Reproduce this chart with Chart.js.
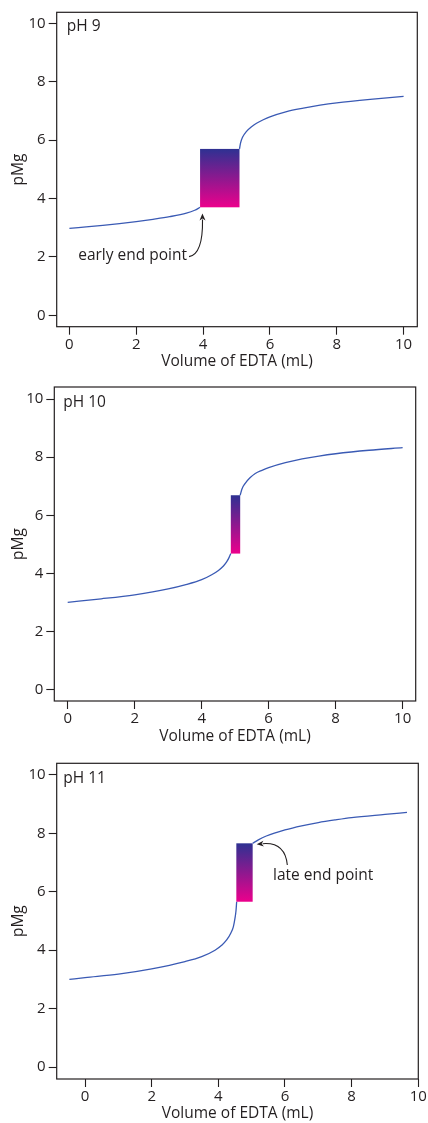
<!DOCTYPE html>
<html>
<head>
<meta charset="utf-8">
<title>pMg titration curves</title>
<script src="https://cdn.jsdelivr.net/npm/chart.js@4.4.1/dist/chart.umd.min.js"></script>
<style>
  html, body { margin: 0; padding: 0; background: #fff; }
  canvas { position: absolute; left: 0; }
</style>
</head>
<body>
<canvas id="ph9" width="428" height="375" style="top:0"></canvas>
<canvas id="ph10" width="428" height="375" style="top:375px"></canvas>
<canvas id="ph11" width="428" height="373" style="top:750px"></canvas>
<script>
// ===== Data =====
const xTicks = [0, 2, 4, 6, 8, 10];
const yTicks = [0, 2, 4, 6, 8, 10];

// pH 9 (null = hidden behind the indicator box)
const ph9Volume = [0, 0.5, 1, 1.5, 2, 2.5, 3, 3.5, 3.75, 3.91, 4.5, 5.09, 5.12, 5.18, 5.3, 5.45, 5.6, 5.8, 6, 6.5, 7, 7.5, 8, 9, 10];
const ph9pMg    = [2.98, 3.03, 3.08, 3.14, 3.21, 3.29, 3.38, 3.5, 3.6, 3.7, null, 5.7, 5.9, 6.1, 6.3, 6.46, 6.58, 6.7, 6.8, 6.98, 7.1, 7.2, 7.28, 7.4, 7.5];
const ph9Box    = [3.91, 5.09, 3.7, 5.7];   // volume from/to, pMg from/to

// pH 10
const ph10Volume = [0, 1, 2, 3, 3.5, 4, 4.3, 4.5, 4.65, 4.75, 4.82, 4.87, 5.0, 5.15, 5.2, 5.3, 5.45, 5.6, 5.8, 6, 6.5, 7, 7.5, 8, 9, 10];
const ph10pMg    = [3.0, 3.12, 3.26, 3.46, 3.6, 3.78, 3.95, 4.1, 4.25, 4.4, 4.55, 4.68, null, 6.69, 6.9, 7.1, 7.3, 7.44, 7.55, 7.64, 7.81, 7.94, 8.04, 8.12, 8.24, 8.33];
const ph10Box    = [4.87, 5.15, 4.68, 6.69];

// pH 11
const ph11Volume = [-0.47, 0, 1, 2, 3, 3.5, 3.9, 4.1, 4.25, 4.38, 4.45, 4.5, 4.53, 4.55, 4.8, 5.03, 5.2, 5.44, 6, 6.5, 7, 7.5, 8, 9, 9.66];
const ph11pMg    = [3.0, 3.06, 3.18, 3.36, 3.61, 3.78, 4.0, 4.17, 4.35, 4.6, 4.8, 5.1, 5.35, 5.66, null, 7.66, 7.78, 7.91, 8.12, 8.26, 8.37, 8.46, 8.54, 8.65, 8.72];
const ph11Box    = [4.54, 5.03, 5.66, 7.66];

// ===== Styles =====
const INK = '#231f20';
const LINE = '#3a5ab4';
const FAMILY = "'Open Sans', 'Noto Sans', sans-serif";
const TICK_FONT = { family: FAMILY, size: 15 };
const TEXT_FONT = { family: FAMILY, size: 15.5 };

// ===== Plugin: frame, indicator box, labels, arrows =====
const decorPlugin = {
  id: 'decor',
  afterDatasetsDraw(chart, args, opts) {
    const { ctx, chartArea: a, scales: { x, y } } = chart;
    const b = opts.box;
    const x0 = x.getPixelForValue(b[0]), x1 = x.getPixelForValue(b[1]);
    const yLo = y.getPixelForValue(b[2]), yHi = y.getPixelForValue(b[3]);
    const g = ctx.createLinearGradient(0, yHi, 0, yLo);
    g.addColorStop(0, '#2e3192');
    g.addColorStop(1, '#ec008c');
    ctx.save();
    ctx.fillStyle = g;
    ctx.fillRect(x0, yHi, x1 - x0, yLo - yHi);

    // frame
    ctx.strokeStyle = INK;
    ctx.lineWidth = 1.2;
    ctx.strokeRect(a.left, a.top, a.width, a.height);

    // panel label
    ctx.fillStyle = INK;
    ctx.font = TEXT_FONT.size + 'px ' + FAMILY;
    ctx.textBaseline = 'middle';
    ctx.textAlign = 'left';
    ctx.fillText(opts.label, a.left + opts.labelOffset[0], a.top + opts.labelOffset[1]);

    // annotation
    const n = opts.note;
    if (n) {
      ctx.textAlign = n.align;
      ctx.fillText(n.text, x.getPixelForValue(n.at[0]), y.getPixelForValue(n.at[1]));
      const p = v => [x.getPixelForValue(v[0]), y.getPixelForValue(v[1])];
      const [tx, ty] = p(n.tail), [cx, cy] = p(n.ctrl), [hx, hy] = p(n.tip);
      const ang = Math.atan2(hy - cy, hx - cx);
      const len = 7, half = 3;
      const bx = hx - Math.cos(ang) * len, by = hy - Math.sin(ang) * len;
      ctx.beginPath();
      ctx.moveTo(tx, ty);
      ctx.quadraticCurveTo(cx, cy, bx + Math.cos(ang) * 1, by + Math.sin(ang) * 1);
      ctx.lineWidth = 1.1;
      ctx.stroke();
      ctx.beginPath();
      ctx.moveTo(hx, hy);
      ctx.lineTo(bx + Math.sin(ang) * half, by - Math.cos(ang) * half);
      ctx.lineTo(bx + Math.cos(ang) * 2, by + Math.sin(ang) * 2);
      ctx.lineTo(bx - Math.sin(ang) * half, by + Math.cos(ang) * half);
      ctx.closePath();
      ctx.fill();
    }
    ctx.restore();
  }
};

// ===== Create Chart =====
function makePanel(id, volume, pMg, p) {
  const pts = volume.map((v, i) => ({ x: v, y: pMg[i] }));
  const canvas = document.getElementById(id);
  const H = canvas.height;
  return new Chart(canvas, {
    type: 'line',
    data: {
      datasets: [{
        data: pts,
        borderColor: LINE,
        borderWidth: 1.3,
        pointRadius: 0,
        cubicInterpolationMode: 'monotone',
        spanGaps: false,
        fill: false
      }]
    },
    options: {
      responsive: false,
      animation: false,
      events: [],
      layout: { padding: { left: 0, top: p.area[1], right: 428 - p.area[2], bottom: 0 } },
      plugins: {
        legend: { display: false },
        tooltip: { enabled: false },
        decor: { box: p.box, label: p.label, labelOffset: p.labelOffset, note: p.note }
      },
      scales: {
        x: {
          type: 'linear',
          min: p.xRange[0], max: p.xRange[1],
          afterBuildTicks: s => { s.ticks = xTicks.map(v => ({ value: v })); },
          afterFit: s => { s.height = H - p.area[3]; },
          grid: { drawOnChartArea: false, drawTicks: true, tickLength: 8, color: INK, tickWidth: 1.1 },
          border: { display: false },
          ticks: { color: INK, font: TICK_FONT, padding: 1, autoSkip: false, maxRotation: 0 },
          title: { display: true, text: 'Volume of EDTA (mL)', color: INK, font: TEXT_FONT, padding: { top: 0, bottom: p.xTitlePad } }
        },
        y: {
          type: 'linear',
          min: p.yRange[0], max: p.yRange[1],
          afterBuildTicks: s => { s.ticks = yTicks.map(v => ({ value: v })); },
          afterFit: s => { s.width = p.area[0]; },
          grid: { drawOnChartArea: false, drawTicks: true, tickLength: 8, color: INK, tickWidth: 1.1 },
          border: { display: false },
          ticks: { color: INK, font: TICK_FONT, padding: 3, autoSkip: false },
          title: { display: true, text: 'pMg', color: INK, font: TEXT_FONT, padding: { top: 9, bottom: 0 } }
        }
      }
    },
    plugins: [decorPlugin]
  });
}

makePanel('ph9', ph9Volume, ph9pMg, {
  area: [56.7, 12.3, 417.3, 326.7],
  xRange: [-0.38, 10.41], yRange: [-0.39, 10.38],
  xTitlePad: 4,
  box: ph9Box, label: 'pH 9', labelOffset: [10, 14],
  note: { text: 'early end point', align: 'right', at: [3.52, 2.03],
          tail: [3.58, 2.01], ctrl: [4.0, 2.1], tip: [3.98, 3.49] }
});

makePanel('ph10', ph10Volume, ph10pMg, {
  area: [54.3, 10, 415.7, 326],
  xRange: [-0.4, 10.39], yRange: [-0.4, 10.42],
  xTitlePad: 4,
  box: ph10Box, label: 'pH 10', labelOffset: [9, 15.7],
  note: null
});

makePanel('ph11', ph11Volume, ph11pMg, {
  area: [56.7, 13.3, 418.3, 329],
  xRange: [-0.85, 10], yRange: [-0.41, 10.4],
  xTitlePad: 0,
  box: ph11Box, label: 'pH 11', labelOffset: [6.6, 15.7],
  note: { text: 'late end point', align: 'left', at: [5.64, 6.55],
          tail: [6.07, 6.92], ctrl: [6.0, 7.71], tip: [5.15, 7.63] }
});
</script>
</body>
</html>
